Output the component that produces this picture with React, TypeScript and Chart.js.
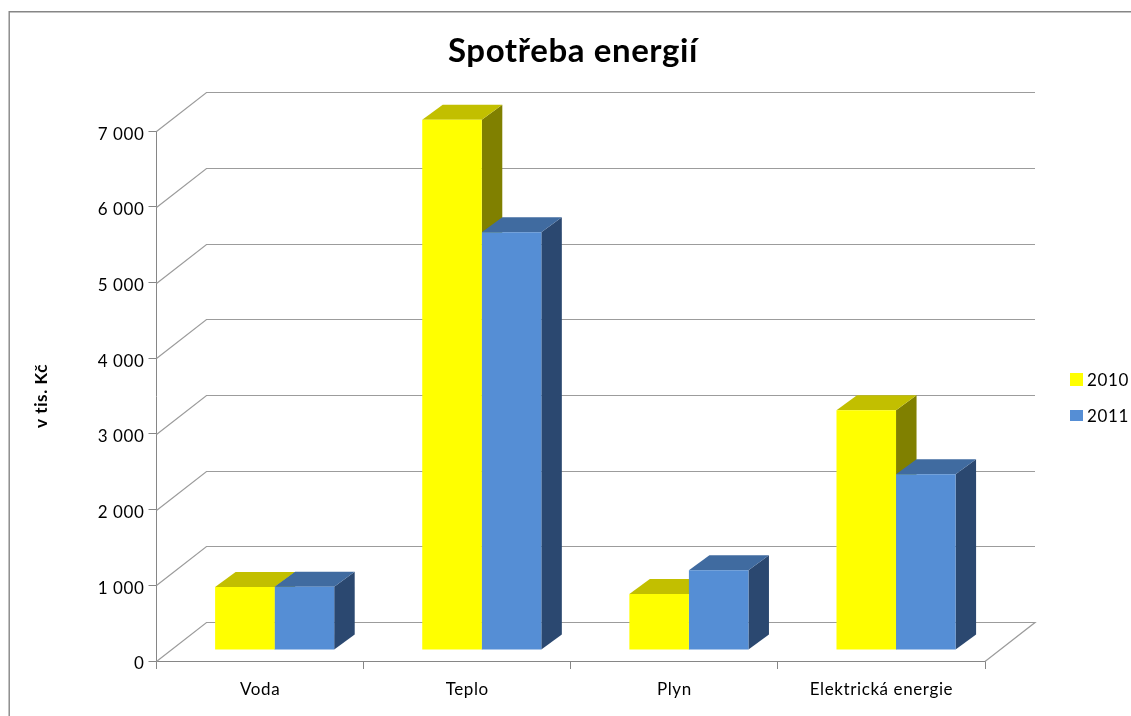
import React, { useEffect, useRef } from "react";
import { Chart, registerables } from "chart.js";

Chart.register(...registerables);

const categories = ["Voda", "Teplo", "Plyn", "Elektrická energie"];
const values2010 = [831, 7005, 739, 3166];
const values2011 = [835, 5518, 1055, 2322];
const seriesNames = ["2010", "2011"];
const yTicks = [0, 1000, 2000, 3000, 4000, 5000, 6000, 7000];
const titleText = "Spotřeba energií";
const yTitleText = "v tis. Kč";

const FONT = "Lato, Carlito, Calibri, sans-serif";
const GRID = "#868686";
const WALL = "#9c9c9c";
const faceColors = [
  { front: "#FFFF00", top: "#C2BF00", side: "#808000" },
  { front: "#558ED5", top: "#406BA0", side: "#2B4870" },
];

const fmt = (v: number) => {
  if (v === 0) return "0";
  return `${Math.floor(v / 1000)} ${String(v % 1000).padStart(3, "0")}`;
};

const threeD = {
  id: "threeD",
  beforeDraw(chart: any) {
    const { ctx, width, height } = chart;
    ctx.save();
    ctx.fillStyle = "#fff";
    ctx.fillRect(0, 0, width, height);
    ctx.strokeStyle = GRID;
    ctx.lineWidth = 1.4;
    ctx.beginPath();
    ctx.moveTo(9.2, height);
    ctx.lineTo(9.2, 11.7);
    ctx.lineTo(width, 11.7);
    ctx.stroke();
    ctx.restore();
    ctx.letterSpacing = "0.6px";
  },
  beforeDatasetsDraw(chart: any) {
    const { ctx, scales, chartArea } = chart;
    const wallDx = 50;
    const wallDy = 39;
    ctx.save();
    ctx.strokeStyle = WALL;
    ctx.lineWidth = 1.2;
    yTicks.forEach((t) => {
      const y = Math.round(scales.y.getPixelForValue(t)) + 0.5;
      ctx.beginPath();
      ctx.moveTo(chartArea.left, y);
      ctx.lineTo(chartArea.left + wallDx, y - wallDy);
      ctx.lineTo(chartArea.right + wallDx, y - wallDy);
      if (t === 0) ctx.lineTo(chartArea.right, y);
      ctx.stroke();
    });
    ctx.restore();

    ctx.save();
    ctx.translate(14.6, -11);
    const dx = 20.5;
    const dy = 15;
    [0, 1].forEach((di) => {
      const meta = chart.getDatasetMeta(di);
      meta.data.forEach((bar: any) => {
        const { x, y, base, width } = bar.getProps(["x", "y", "base", "width"], true);
        const l = x - width / 2;
        const r = x + width / 2;
        ctx.fillStyle = faceColors[di].side;
        ctx.beginPath();
        ctx.moveTo(r, y);
        ctx.lineTo(r + dx, y - dy);
        ctx.lineTo(r + dx, base - dy);
        ctx.lineTo(r, base);
        ctx.closePath();
        ctx.fill();
        ctx.fillStyle = faceColors[di].top;
        ctx.beginPath();
        ctx.moveTo(l, y);
        ctx.lineTo(l + dx, y - dy);
        ctx.lineTo(r + dx, y - dy);
        ctx.lineTo(r, y);
        ctx.closePath();
        ctx.fill();
      });
    });
  },
  afterDatasetsDraw(chart: any) {
    chart.ctx.restore();
  },
  afterDraw(chart: any) {
    const { ctx } = chart;
    ctx.save();
    const boxes = [
      { y: 373, h: 13, ty: 381 },
      { y: 410, h: 11, ty: 417 },
    ];
    seriesNames.forEach((name, i) => {
      ctx.fillStyle = faceColors[i].front;
      ctx.fillRect(1070, boxes[i].y, 13, boxes[i].h);
      ctx.fillStyle = "#000";
      ctx.font = `17px ${FONT}`;
      ctx.textBaseline = "middle";
      ctx.letterSpacing = "0.6px";
      ctx.fillText(name, 1087, boxes[i].ty);
    });
    ctx.restore();
    ctx.letterSpacing = "0px";
  },
};

export default function App() {
  const ref = useRef<HTMLCanvasElement>(null);
  useEffect(() => {
    const canvas = ref.current!;
    const chart = new Chart(canvas, {
      type: "bar",
      data: {
        labels: categories,
        datasets: [
          { label: seriesNames[0], data: values2010, backgroundColor: faceColors[0].front, clip: false as any },
          { label: seriesNames[1], data: values2011, backgroundColor: faceColors[1].front, clip: false as any },
        ],
      },
      options: {
        responsive: false,
        animation: false,
        layout: { padding: { left: 15, right: 0, top: 0, bottom: 0 } },
        datasets: { bar: { categoryPercentage: 0.575, barPercentage: 1 } },
        plugins: {
          legend: { display: false },
          tooltip: { enabled: false },
          title: {
            display: true,
            text: titleText,
            color: "#000",
            font: { family: FONT, size: 33, weight: "bold" },
            padding: { top: 32, bottom: 59.5 },
          },
        },
        scales: {
          x: {
            afterFit(s: any) { s.height = 55; },
            grid: { offset: true, drawOnChartArea: false, color: GRID, tickLength: 8 },
            border: { color: GRID },
            ticks: { color: "#000", font: { family: FONT, size: 17 }, padding: 10, maxRotation: 0, autoSkip: false },
          },
          y: {
            min: 0,
            max: 7000,
            afterFit(s: any) { s.width = 141.5; },
            afterBuildTicks(s: any) { s.ticks = yTicks.map((value) => ({ value })); },
            grid: { drawOnChartArea: false, color: GRID, tickLength: 8 },
            border: { color: GRID },
            ticks: { color: "#000", font: { family: FONT, size: 17 }, padding: 4, labelOffset: 3, callback: (v: any) => fmt(Number(v)) },
            title: {
              display: true,
              text: yTitleText,
              color: "#000",
              font: { family: FONT, size: 17, weight: "bold" },
              padding: { top: 16, bottom: 0 },
            },
          },
          spacer: {
            type: "linear",
            position: "right",
            display: true,
            afterFit(s: any) { s.width = 146; },
            grid: { display: false },
            border: { display: false },
            ticks: { display: false },
          },
        },
      } as any,
      plugins: [threeD],
    });
    return () => chart.destroy();
  }, []);
  return (
    <div style={{ position: "fixed", left: 0, top: 0, width: 1131, height: 716 }}>
      <canvas ref={ref} width={1131} height={716} style={{ display: "block" }} />
    </div>
  );
}
